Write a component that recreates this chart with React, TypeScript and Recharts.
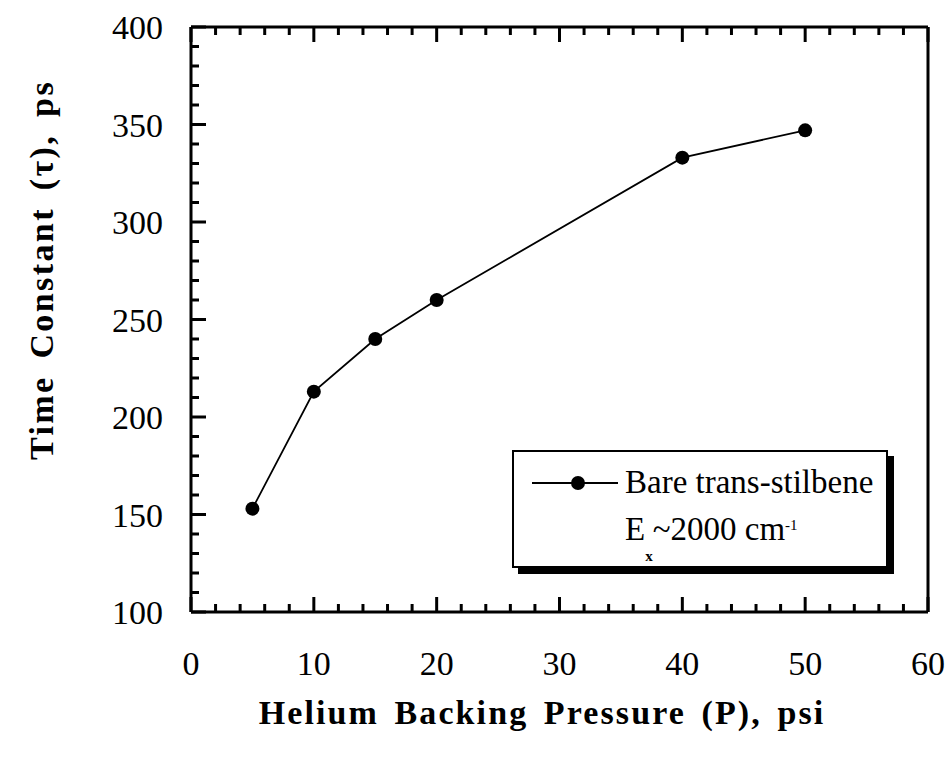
import React from 'react';
import { LineChart, Line, XAxis, YAxis, Label } from 'recharts';

// helium backing pressure (psi) vs time constant tau (ps)
const pressures = [5, 10, 15, 20, 40, 50];
const timeConstants = [153, 213, 240, 260, 333, 347];

const xTicks = [0, 2, 4, 6, 8, 10, 12, 14, 16, 18, 20, 22, 24, 26, 28, 30, 32, 34, 36, 38, 40, 42, 44, 46, 48, 50, 52, 54, 56, 58, 60];
const yTicks = [100, 110, 120, 130, 140, 150, 160, 170, 180, 190, 200, 210, 220, 230, 240, 250, 260, 270, 280, 290, 300, 310, 320, 330, 340, 350, 360, 370, 380, 390, 400];

const chartData = pressures.map((p, i) => ({ p, tau: timeConstants[i] }));

const FONT = '"Liberation Serif", "Times New Roman", serif';
const MAJOR = 15;
const MINOR = 8;

const BottomTick = ({ x, y, payload }: any) => {
    const major = payload.value % 10 === 0;
    return (
        <g>
            <line x1={x} y1={y} x2={x} y2={y - (major ? MAJOR : MINOR)} stroke="#000" strokeWidth={3} />
            {major && (
                <text x={x} y={y + 63} textAnchor="middle" fontFamily={FONT} fontSize={34} fill="#000">
                    {payload.value}
                </text>
            )}
        </g>
    );
};

const TopTick = ({ x, y, payload }: any) => {
    const major = payload.value % 10 === 0;
    return <line x1={x} y1={y} x2={x} y2={y + (major ? MAJOR : MINOR)} stroke="#000" strokeWidth={3} />;
};

const LeftTick = ({ x, y, payload }: any) => {
    const major = payload.value % 50 === 0;
    return (
        <g>
            <line x1={x} y1={y} x2={x + (major ? MAJOR : MINOR)} y2={y} stroke="#000" strokeWidth={3} />
            {major && (
                <text x={x - 28} y={y + 12} textAnchor="end" fontFamily={FONT} fontSize={34} fill="#000">
                    {payload.value}
                </text>
            )}
        </g>
    );
};

const RightTick = ({ x, y, payload }: any) => {
    const major = payload.value % 50 === 0;
    return <line x1={x} y1={y} x2={x - (major ? MAJOR : MINOR)} y2={y} stroke="#000" strokeWidth={3} />;
};

const LegendBox = () => (
    <div
        style={{
            position: 'absolute',
            left: 512,
            top: 450,
            width: 376,
            height: 118,
            boxSizing: 'border-box',
            border: '2.5px solid #000',
            boxShadow: '6px 6px 0 #000',
            background: '#fff',
        }}
    >
        <svg width={372} height={114} style={{ position: 'absolute', left: 0, top: 0 }}>
            <line x1={18} y1={31} x2={104} y2={31} stroke="#000" strokeWidth={1.8} />
            <circle cx={64} cy={31} r={7} fill="#000" />
            <text x={111} y={41} fontFamily={FONT} fontSize={33} fill="#000">
                Bare trans-stilbene
            </text>
            <text x={111} y={88} fontFamily={FONT} fontSize={33} fill="#000">
                E
                <tspan dy={21} fontSize={15} fontWeight="bold">x</tspan>
                <tspan dy={-21}>~2000 cm</tspan>
                <tspan dy={-10} fontSize={15}>-1</tspan>
            </text>
        </svg>
    </div>
);

export default function App() {
    return (
        <div style={{ position: 'absolute', left: 0, top: 0, width: 951, height: 759, background: '#fff' }}>
            <LineChart width={951} height={759} data={chartData} margin={{ top: 26, right: 22, bottom: 0, left: 81 }}>
                <XAxis
                    xAxisId="bottom"
                    dataKey="p"
                    type="number"
                    domain={[0, 60]}
                    ticks={xTicks}
                    interval={0}
                    tickSize={0}
                    tickMargin={0}
                    tickLine={false}
                    axisLine={{ stroke: '#000', strokeWidth: 3 }}
                    tick={<BottomTick />}
                    height={147}
                >
                    <Label
                        content={({ viewBox }: any) => (
                            <text
                                x={542}
                                y={viewBox.y + 112}
                                textAnchor="middle"
                                fontFamily={FONT}
                                fontSize={34}
                                fontWeight="bold"
                                letterSpacing={2.1}
                                wordSpacing={5}
                                fill="#000"
                            >
                                Helium Backing Pressure (P), psi
                            </text>
                        )}
                    />
                </XAxis>
                <XAxis
                    xAxisId="top"
                    orientation="top"
                    dataKey="p"
                    type="number"
                    domain={[0, 60]}
                    ticks={xTicks}
                    interval={0}
                    tickSize={0}
                    tickMargin={0}
                    tickLine={false}
                    axisLine={{ stroke: '#000', strokeWidth: 3 }}
                    tick={<TopTick />}
                    height={1}
                />
                <YAxis
                    yAxisId="left"
                    type="number"
                    domain={[100, 400]}
                    ticks={yTicks}
                    interval={0}
                    tickSize={0}
                    tickMargin={0}
                    tickLine={false}
                    axisLine={{ stroke: '#000', strokeWidth: 3 }}
                    tick={<LeftTick />}
                    width={110}
                >
                    <Label
                        content={() => {
                            const cx = 53;
                            const cy = 270;
                            return (
                                <text
                                    x={cx}
                                    y={cy}
                                    transform={`rotate(-90, ${cx}, ${cy})`}
                                    textAnchor="middle"
                                    fontFamily={FONT}
                                    fontSize={34}
                                    fontWeight="bold"
                                    letterSpacing={2.4}
                                    wordSpacing={6}
                                    fill="#000"
                                >
                                    Time Constant (τ), ps
                                </text>
                            );
                        }}
                    />
                </YAxis>
                <YAxis
                    yAxisId="right"
                    orientation="right"
                    type="number"
                    domain={[100, 400]}
                    ticks={yTicks}
                    interval={0}
                    tickSize={0}
                    tickMargin={0}
                    tickLine={false}
                    axisLine={{ stroke: '#000', strokeWidth: 3 }}
                    tick={<RightTick />}
                    width={1}
                />
                <Line
                    xAxisId="bottom"
                    yAxisId="left"
                    dataKey="tau"
                    name="Bare trans-stilbene"
                    stroke="#000"
                    strokeWidth={1.8}
                    dot={{ r: 7, fill: '#000', stroke: '#000', strokeWidth: 0 }}
                    isAnimationActive={false}
                />
            </LineChart>
            <LegendBox />
        </div>
    );
}
